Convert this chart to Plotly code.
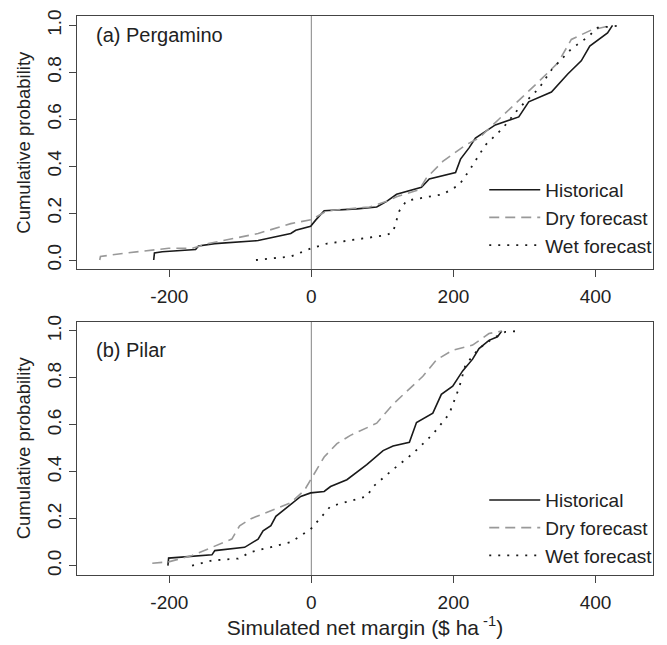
import plotly.graph_objects as go
from plotly.subplots import make_subplots

# ---------------- data ----------------
# (a) Pergamino
perg_hist_x = [-222, -221, -210, -163, -159, -136, -75, -47, -29, -22, -1, 6, 18, 64, 92, 106, 120, 155, 166,
               203, 210, 222, 231, 259, 292, 306, 338, 361, 380, 392, 417, 424]
perg_hist_y = [0.0, 0.03, 0.035, 0.045, 0.06, 0.07, 0.083, 0.10, 0.113, 0.127, 0.144, 0.17, 0.21, 0.218, 0.226,
               0.25, 0.28, 0.31, 0.345, 0.373, 0.43, 0.478, 0.52, 0.576, 0.61, 0.674, 0.716, 0.793, 0.849,
               0.912, 0.968, 1.0]
perg_dry_x = [-298, -297, -261, -201, -168, -145, -75, -29, 0, 22, 82, 106, 120, 152, 162, 185, 217, 236, 264,
              296, 320, 347, 366, 394, 422]
perg_dry_y = [0.0, 0.015, 0.03, 0.05, 0.05, 0.07, 0.113, 0.155, 0.172, 0.21, 0.226, 0.25, 0.27, 0.30, 0.35,
              0.42, 0.49, 0.52, 0.60, 0.69, 0.76, 0.84, 0.94, 0.98, 1.0]
perg_wet_x = [-78, -29, 0, 22, 106, 115, 124, 134, 185, 208, 222, 245, 269, 292, 320, 338, 366, 389, 403, 438]
perg_wet_y = [0.0, 0.015, 0.05, 0.07, 0.106, 0.12, 0.21, 0.253, 0.28, 0.32, 0.38, 0.49, 0.56, 0.646, 0.73,
              0.81, 0.90, 0.95, 0.99, 1.0]

# (b) Pilar
pilar_hist_x = [-202, -201, -140, -136, -94, -75, -68, -57, -50, -29, -15, -1, 18, 27, 50, 78, 101, 115, 138,
                148, 171, 183, 199, 213, 227, 236, 250, 262, 268]
pilar_hist_y = [0.0, 0.032, 0.046, 0.064, 0.078, 0.113, 0.148, 0.17, 0.21, 0.26, 0.295, 0.31, 0.316, 0.337,
                0.366, 0.43, 0.49, 0.51, 0.526, 0.61, 0.65, 0.73, 0.765, 0.83, 0.88, 0.925, 0.96, 0.975, 1.0]
pilar_dry_x = [-224, -201, -168, -112, -101, -85, -29, -10, -1, 18, 36, 55, 92, 115, 157, 176, 199, 227, 250,
               268]
pilar_dry_y = [0.01, 0.016, 0.043, 0.113, 0.17, 0.20, 0.268, 0.32, 0.366, 0.463, 0.52, 0.555, 0.607, 0.688,
               0.807, 0.877, 0.918, 0.94, 0.989, 1.0]
pilar_wet_x = [-168, -140, -103, -85, -29, -1, 27, 78, 87, 115, 143, 171, 194, 208, 217, 236, 255, 273, 292]
pilar_wet_y = [0.0, 0.022, 0.03, 0.058, 0.10, 0.155, 0.253, 0.295, 0.337, 0.41, 0.478, 0.56, 0.646, 0.758,
               0.856, 0.925, 0.968, 0.996, 1.0]

series_names = ["Historical", "Dry forecast", "Wet forecast"]
panel_labels = ["(a) Pergamino", "(b) Pilar"]
x_ticks = [-200, 0, 200, 400]
y_ticks = [0.0, 0.2, 0.4, 0.6, 0.8, 1.0]
y_tick_text = ["0.0", "0.2", "0.4", "0.6", "0.8", "1.0"]

# ---------------- styles ----------------
FONT = "Liberation Sans, Arial, sans-serif"
TXT = "#222222"
styles = [
    dict(color="#1a1a1a", width=1.6, dash="solid"),
    dict(color="#999999", width=1.6, dash="10px,6px"),
    dict(color="#1a1a1a", width=1.8, dash="2px,7px"),
]

fig = make_subplots(rows=2, cols=1, vertical_spacing=0.0934)

panels = [
    [(perg_hist_x, perg_hist_y), (perg_dry_x, perg_dry_y), (perg_wet_x, perg_wet_y)],
    [(pilar_hist_x, pilar_hist_y), (pilar_dry_x, pilar_dry_y), (pilar_wet_x, pilar_wet_y)],
]

for r, panel in enumerate(panels, start=1):
    for i, (xs, ys) in enumerate(panel):
        fig.add_trace(
            go.Scatter(x=xs, y=ys, mode="lines", name=series_names[i], line=styles[i],
                       legend="legend" if r == 1 else "legend2", showlegend=True),
            row=r, col=1,
        )

# vertical zero line
for r in (1, 2):
    yref = "y domain" if r == 1 else "y2 domain"
    xref = "x" if r == 1 else "x2"
    fig.add_shape(type="line", x0=0, x1=0, y0=0, y1=1, xref=xref, yref=yref,
                  line=dict(color="#999999", width=1.2), layer="below")

axis_common = dict(showline=True, linecolor="#444444", linewidth=1.2, mirror=True,
                   ticks="outside", ticklen=7, tickcolor="#444444", tickwidth=1.2,
                   showgrid=False, zeroline=False,
                   tickfont=dict(family=FONT, size=19, color=TXT))

fig.update_xaxes(range=[-330, 481], tickvals=x_ticks, ticktext=[str(v) for v in x_ticks],
                 ticklabelstandoff=3, **axis_common)
fig.update_yaxes(range=[-0.04, 1.04], tickvals=y_ticks, ticktext=y_tick_text, tickangle=-90,
                 title=dict(text="Cumulative probability", font=dict(family=FONT, size=18.5, color=TXT),
                            standoff=8),
                 **axis_common)
fig.update_xaxes(title=dict(text="Simulated net margin ($ ha<sup> -1</sup>)",
                            font=dict(family=FONT, size=21, color=TXT), standoff=8), row=2, col=1)

legend_common = dict(xanchor="left", yanchor="top", bgcolor="rgba(0,0,0,0)", itemwidth=51,
                     font=dict(family=FONT, size=19, color=TXT), tracegroupgap=0)
fig.update_layout(
    width=667, height=645,
    margin=dict(l=77, r=9, t=10, b=68),
    plot_bgcolor="white", paper_bgcolor="white",
    font=dict(family=FONT, size=18, color=TXT),
    legend=dict(x=0.707, y=0.723, **legend_common),
    legend2=dict(x=0.707, y=0.168, **legend_common),
)

# panel labels
fig.add_annotation(text=panel_labels[0], xref="x domain", yref="y domain", x=0.03, y=0.925, xanchor="left",
                   yanchor="middle", showarrow=False, font=dict(family=FONT, size=20, color=TXT))
fig.add_annotation(text=panel_labels[1], xref="x2 domain", yref="y2 domain", x=0.03, y=0.886, xanchor="left",
                   yanchor="middle", showarrow=False, font=dict(family=FONT, size=20, color=TXT))

fig.write_html("out.html")
